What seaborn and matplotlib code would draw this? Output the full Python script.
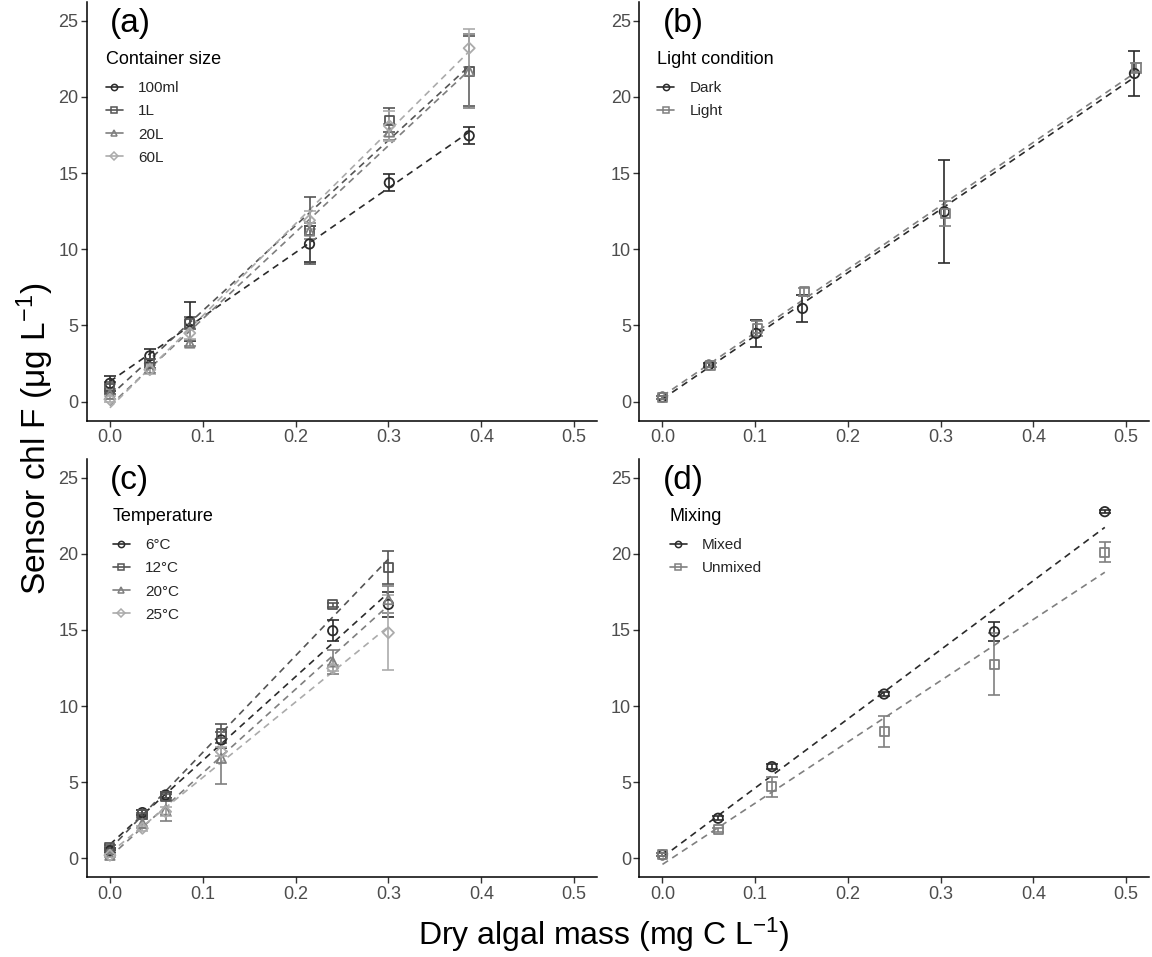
import numpy as np
import pandas as pd
import matplotlib
matplotlib.use("Agg")
import matplotlib.pyplot as plt
from matplotlib.lines import Line2D
import seaborn as sns

# ---------------- data ----------------
# (a) Container size
x_a = [0.0, 0.043, 0.086, 0.215, 0.301, 0.387]
a_100ml = [1.2, 3.0, 5.25, 10.35, 14.37, 17.45]
a_100ml_sd = [0.5, 0.45, 1.3, 1.2, 0.55, 0.55]
a_1L = [0.87, 2.5, 5.15, 11.26, 18.48, 21.7]
a_1L_sd = [0.4, 0.3, 0.4, 2.2, 0.8, 2.3]
a_20L = [0.5, 2.2, 3.85, 11.2, 17.7, 21.7]
a_20L_sd = [0.3, 0.3, 0.2, 0.5, 0.5, 2.4]
a_60L = [0.15, 2.1, 4.5, 11.9, 18.1, 23.2]
a_60L_sd = [0.2, 0.3, 0.4, 0.6, 1.0, 1.25]

# (b) Light condition
x_b_dark = [0.0, 0.05, 0.101, 0.151, 0.304, 0.509]
b_dark = [0.3, 2.4, 4.48, 6.12, 12.47, 21.54]
b_dark_sd = [0.1, 0.15, 0.87, 0.87, 3.4, 1.45]
x_b_light = [0.0, 0.052, 0.102, 0.153, 0.305, 0.511]
b_light = [0.3, 2.4, 4.8, 7.2, 12.36, 21.9]
b_light_sd = [0.1, 0.15, 0.5, 0.28, 0.82, 0.3]

# (c) Temperature
x_c = [0.0, 0.035, 0.06, 0.12, 0.24, 0.30]
c_6 = [0.5, 3.0, 4.16, 7.77, 14.95, 16.68]
c_6_sd = [0.15, 0.15, 0.2, 0.5, 0.7, 0.8]
c_12 = [0.72, 2.85, 4.05, 8.2, 16.64, 19.1]
c_12_sd = [0.15, 0.15, 0.2, 0.6, 0.1, 1.1]
c_20 = [0.2, 2.3, 3.17, 6.57, 12.9, 17.0]
c_20_sd = [0.1, 0.3, 0.7, 1.7, 0.8, 0.9]
c_25 = [0.2, 1.97, 3.06, 7.0, 12.48, 14.82]
c_25_sd = [0.1, 0.15, 0.3, 0.3, 0.2, 2.45]

# (d) Mixing
x_d = [0.0, 0.06, 0.118, 0.239, 0.358, 0.477]
d_mixed = [0.22, 2.63, 6.02, 10.79, 14.89, 22.77]
d_mixed_sd = [0.1, 0.12, 0.15, 0.12, 0.62, 0.12]
d_unmixed = [0.22, 1.86, 4.7, 8.32, 12.76, 20.1]
d_unmixed_sd = [0.1, 0.12, 0.65, 1.03, 2.03, 0.66]

x_ticks = [0.0, 0.1, 0.2, 0.3, 0.4, 0.5]
y_ticks = [0, 5, 10, 15, 20, 25]

# ---------------- style ----------------
sns.set_style("ticks")
plt.rcParams["font.family"] = ["Liberation Sans", "DejaVu Sans"]
plt.rcParams["mathtext.fontset"] = "custom"
plt.rcParams["mathtext.rm"] = "Liberation Sans"
plt.rcParams["mathtext.default"] = "regular"

grey4 = ["#2b2b2b", "#555555", "#7f7f7f", "#ababab"]
grey2 = ["#2b2b2b", "#808080"]
markers4 = ["o", "s", "^", "D"]
msize = {"o": 46, "s": 42, "^": 46, "D": 32}

fig = plt.figure(figsize=(11.52, 9.57), dpi=100)
W, H = 1152, 957
def add_ax(l, t, r, b):
    return fig.add_axes([l / W, 1 - b / H, (r - l) / W, (b - t) / H])

ax_a = add_ax(86.7, 1.7, 597.3, 420.7)
ax_b = add_ax(639.3, 1.7, 1149.3, 420.7)
ax_c = add_ax(86.7, 458.7, 597.3, 877.3)
ax_d = add_ax(639.3, 458.7, 1149.3, 877.3)

def draw_series(ax, x, y, sd, color, marker):
    df = pd.DataFrame({"x": x, "y": y, "sd": sd})
    sns.regplot(data=df, x="x", y="y", scatter=False, ci=None, truncate=True,
                ax=ax, line_kws=dict(color=color, lw=1.2, ls=(0, (4, 3))))
    ax.errorbar(df["x"], df["y"], yerr=df["sd"], fmt="none", ecolor=color,
                elinewidth=1.2, capsize=4.5, capthick=1.2, zorder=3)
    sns.scatterplot(data=df, x="x", y="y", marker=marker, s=msize[marker],
                    color=color, facecolors="none", edgecolor=color,
                    linewidth=1.3, ax=ax, zorder=4)

def finish(ax, label, title, names, colors, markers):
    ax.set_xlim(-0.025, 0.525)
    ax.set_ylim(-1.25, 26.25)
    ax.set_xticks(x_ticks)
    ax.set_xticklabels([f"{v:.1f}" for v in x_ticks])
    ax.set_yticks(y_ticks)
    ax.set_yticklabels([str(v) for v in y_ticks])
    ax.set_xlabel("")
    ax.set_ylabel("")
    ax.tick_params(labelsize=13, labelcolor="#4d4d4d", color="#333333",
                   length=4, width=1, pad=2)
    for s in ["left", "bottom"]:
        ax.spines[s].set_linewidth(1.1)
        ax.spines[s].set_color("black")
    sns.despine(ax=ax)
    ax.text(0.0, 24.8, label, fontsize=24, ha="left", va="center", color="black")
    handles = [Line2D([], [], color=c, marker=m, markerfacecolor="none",
                      markersize=4.5 if m != "D" else 3.8, markeredgewidth=1.1, lw=1.2)
               for c, m in zip(colors, markers)]
    bb = ax.get_position()
    leg = ax.legend(handles=handles, labels=names, title=title, loc="upper center",
                    bbox_to_anchor=(bb.x0 + 0.15 * bb.width, bb.y1 - 42 / H),
                    bbox_transform=fig.transFigure, frameon=False,
                    fontsize=11, title_fontsize=13, handlelength=1.1,
                    handletextpad=1.0, labelspacing=0.6, borderpad=0,
                    alignment="left")
    leg.get_title().set_color("black")
    leg._legend_box.sep = 9.3

# (a)
for y, sd, c, m in zip([a_100ml, a_1L, a_20L, a_60L],
                       [a_100ml_sd, a_1L_sd, a_20L_sd, a_60L_sd], grey4, markers4):
    draw_series(ax_a, x_a, y, sd, c, m)
finish(ax_a, "(a)", "Container size", ["100ml", "1L", "20L", "60L"], grey4, markers4)

# (b)
draw_series(ax_b, x_b_dark, b_dark, b_dark_sd, grey2[0], "o")
draw_series(ax_b, x_b_light, b_light, b_light_sd, grey2[1], "s")
finish(ax_b, "(b)", "Light condition", ["Dark", "Light"], grey2, ["o", "s"])

# (c)
for y, sd, c, m in zip([c_6, c_12, c_20, c_25],
                       [c_6_sd, c_12_sd, c_20_sd, c_25_sd], grey4, markers4):
    draw_series(ax_c, x_c, y, sd, c, m)
finish(ax_c, "(c)", "Temperature", ["6°C", "12°C", "20°C", "25°C"], grey4, markers4)

# (d)
draw_series(ax_d, x_d, d_mixed, d_mixed_sd, grey2[0], "o")
draw_series(ax_d, x_d, d_unmixed, d_unmixed_sd, grey2[1], "s")
finish(ax_d, "(d)", "Mixing", ["Mixed", "Unmixed"], grey2, ["o", "s"])

fig.text(35 / W, 1 - 439 / H, r"Sensor chl F (μg L$^{-1}$)", rotation=90,
         ha="center", va="center", fontsize=24, color="black")
fig.text(604 / W, 1 - 935 / H, r"Dry algal mass (mg C L$^{-1}$)",
         ha="center", va="center", fontsize=23, color="black")

fig.savefig("out.png", dpi=100)
